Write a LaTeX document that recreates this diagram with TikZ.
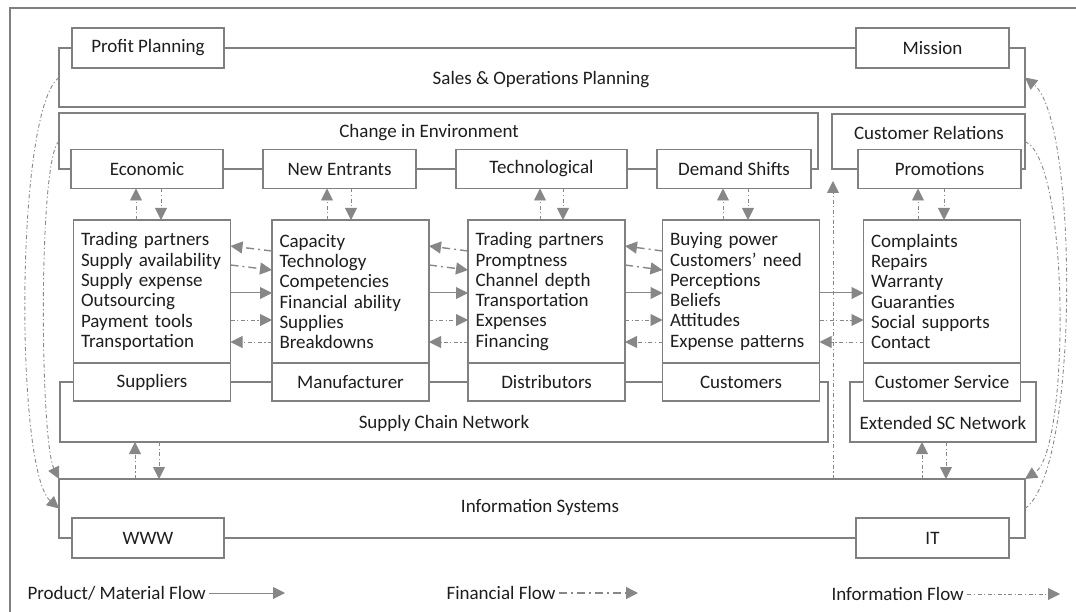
\documentclass[tikz,border=0pt]{standalone}
\usepackage{fontspec}
\setmainfont{Carlito}
\usetikzlibrary{positioning,fit,arrows.meta}
\definecolor{boxgray}{RGB}{128,128,128}
\definecolor{flowgray}{RGB}{135,135,135}
\definecolor{txtgray}{RGB}{30,30,30}
\begin{document}
\begin{tikzpicture}[x=1pt,y=-1pt,font=\fontsize{19}{20.3}\selectfont,text=txtgray,
  frame/.style={draw=boxgray,line width=1.5pt,inner sep=0pt,outer sep=0pt},
  tagbox/.style={draw=boxgray,line width=1.5pt,fill=white,outer sep=0pt,minimum height=39pt},
  listbox/.style={draw=boxgray,line width=1.5pt,fill=white,outer sep=0pt,minimum height=143pt,
    text width=142pt,inner xsep=7.5pt,align=left},
  prod/.style={draw=flowgray,line width=1pt,-{Triangle[length=12pt,width=12pt]}},
  info/.style={draw=flowgray,line width=0.9pt,dash pattern=on 4pt off 2.5pt on 1.2pt off 2.5pt,
    -{Triangle[length=12pt,width=12pt]}},
  fin/.style={draw=flowgray,line width=1.4pt,dash pattern=on 8pt off 4pt on 2pt off 4pt,
    -{Triangle[length=12pt,width=12pt]}}]
\useasboundingbox (0,0) rectangle (1076,612);
\draw[boxgray,line width=1.5pt] (10,612)--(10,8)--(1076,8);
% frames
\node[frame,fit={(59,48) (1025,107)}] (sopf) {};
\node[frame,fit={(59,113) (818,169)}] (cef) {};
\node[frame,fit={(832,114) (1025,169)}] (crf) {};
\node[frame,fit={(60,382) (828,442)}] (scnf) {};
\node[frame,fit={(850,382) (1036,442)}] (extf) {};
\node[frame,fit={(59,479) (1025,538)}] (isf) {};
\node (sop) at (541,80) {Sales \& Operations Planning};
\node (ce) at (429,133) {Change in Environment};
\node (cr) at (929,133) {Customer Relations};
\node (scn) at (444,423) {Supply Chain Network};
\node (ext) at (943,423) {Extended SC Network};
\node (is) at (540,507) {Information Systems};
% boxes on the frames
\node[tagbox,minimum width=152pt,minimum height=40pt] (pp) at (148,48) {Profit Planning};
\node[tagbox,minimum width=153pt,minimum height=40pt] (mis) at (932.5,48) {Mission};
\node[tagbox,minimum width=152pt] (eco) at (147,169) {Economic};
\node[tagbox,minimum width=153pt] (ne) at (339.5,169) {New Entrants};
\node[tagbox,minimum width=171pt] (tec) at (541.5,169) {Technological};
\node[tagbox,minimum width=154pt] (dem) at (734,169) {Demand Shifts};
\node[tagbox,minimum width=163pt] (pro) at (939.5,169) {Promotions};
\node[tagbox,minimum width=152pt,minimum height=40pt] (www) at (148,538) {WWW};
\node[tagbox,minimum width=153pt,minimum height=40pt] (it) at (932.5,538) {IT};
% member boxes
\node[listbox] (sup) at (152,291.5) {Trading partners\\Supply availability\\Supply expense\\Outsourcing\\Payment tools\\Transportation};
\node[listbox] (man) at (350.5,291.5) {Capacity\\Technology\\Competencies\\Financial ability\\Supplies\\Breakdowns};
\node[listbox] (dis) at (546.5,291.5) {Trading partners\\Promptness\\Channel depth\\Transportation\\Expenses\\Financing};
\node[listbox] (cus) at (741,291.5) {Buying power\\Customers’ need\\Perceptions\\Beliefs\\Attitudes\\Expense patterns};
\node[listbox] (csv) at (942,291.5) {Complaints\\Repairs\\Warranty\\Guaranties\\Social supports\\Contact};
\node[tagbox,minimum width=157pt,minimum height=38pt,below=0pt of sup] (supt) {Suppliers};
\node[tagbox,minimum width=157pt,minimum height=38pt,below=0pt of man] (mant) {Manufacturer};
\node[tagbox,minimum width=157pt,minimum height=38pt,below=0pt of dis] (dist) {Distributors};
\node[tagbox,minimum width=157pt,minimum height=38pt,below=0pt of cus] (cust) {Customers};
\node[tagbox,minimum width=157pt,minimum height=38pt,below=0pt of csv] (csvt) {Customer Service};
% up and down between environment and members
\draw[info] ([xshift=-11pt]eco.south |- sup.north) -- ([xshift=-11pt]eco.south);
\draw[info] ([xshift=14pt]eco.south) -- ([xshift=14pt]eco.south |- sup.north);
\draw[info] ([xshift=-12.5pt]ne.south |- man.north) -- ([xshift=-12.5pt]ne.south);
\draw[info] ([xshift=11.5pt]ne.south) -- ([xshift=11.5pt]ne.south |- man.north);
\draw[info] ([xshift=-1.5pt]tec.south |- dis.north) -- ([xshift=-1.5pt]tec.south);
\draw[info] ([xshift=21.5pt]tec.south) -- ([xshift=21.5pt]tec.south |- dis.north);
\draw[info] ([xshift=-11pt]dem.south |- cus.north) -- ([xshift=-11pt]dem.south);
\draw[info] ([xshift=14pt]dem.south) -- ([xshift=14pt]dem.south |- cus.north);
\draw[info] ([xshift=-21.5pt]pro.south |- csv.north) -- ([xshift=-21.5pt]pro.south);
\draw[info] ([xshift=4.5pt]pro.south) -- ([xshift=4.5pt]pro.south |- csv.north);
% flows between members
\draw[fin] ([yshift=40.5pt]man.west) -- ([yshift=45.5pt]sup.east);
\draw[fin] ([yshift=26.5pt]sup.east) -- ([yshift=21.5pt]man.west);
\draw[prod] ([yshift=-1.5pt]sup.east) -- ([yshift=-1.5pt]man.west);
\draw[info] ([yshift=-28.5pt]sup.east) -- ([yshift=-28.5pt]man.west);
\draw[info] ([yshift=-50.5pt]man.west) -- ([yshift=-50.5pt]sup.east);
\draw[fin] ([yshift=40.5pt]dis.west) -- ([yshift=45.5pt]man.east);
\draw[fin] ([yshift=26.5pt]man.east) -- ([yshift=21.5pt]dis.west);
\draw[prod] ([yshift=-1.5pt]man.east) -- ([yshift=-1.5pt]dis.west);
\draw[info] ([yshift=-28.5pt]man.east) -- ([yshift=-28.5pt]dis.west);
\draw[info] ([yshift=-50.5pt]dis.west) -- ([yshift=-50.5pt]man.east);
\draw[fin] ([yshift=40.5pt]cus.west) -- ([yshift=45.5pt]dis.east);
\draw[fin] ([yshift=26.5pt]dis.east) -- ([yshift=21.5pt]cus.west);
\draw[prod] ([yshift=-1.5pt]dis.east) -- ([yshift=-1.5pt]cus.west);
\draw[info] ([yshift=-28.5pt]dis.east) -- ([yshift=-28.5pt]cus.west);
\draw[info] ([yshift=-50.5pt]cus.west) -- ([yshift=-50.5pt]dis.east);
\draw[prod] ([yshift=-1.5pt]cus.east) -- ([yshift=-1.5pt]csv.west);
\draw[info] ([yshift=-28.5pt]cus.east) -- ([yshift=-28.5pt]csv.west);
\draw[info] ([yshift=-50.5pt]csv.west) -- ([yshift=-50.5pt]cus.east);
% networks and information systems
\draw[info] ([xshift=-13pt]www.center |- isf.north) -- ([xshift=-13pt]www.center |- scnf.south);
\draw[info] ([xshift=11pt]www.center |- scnf.south) -- ([xshift=11pt]www.center |- isf.north);
\draw[info] ([xshift=-10.5pt]it.center |- isf.north) -- ([xshift=-10.5pt]it.center |- extf.south);
\draw[info] ([xshift=13.5pt]it.center |- extf.south) -- ([xshift=13.5pt]it.center |- isf.north);
\coordinate (crtip) at (833,181);
\draw[info] (isf.north -| crtip) -- (crtip);
% side loops
\draw[info] (sopf.west) .. controls (15,110) and (15,470) .. (isf.west);
\draw[info] (cef.west) .. controls (38,160) and (40,440) .. (isf.north west);
\draw[info] (isf.east) .. controls (1080,470) and (1078,120) .. (sopf.east);
\draw[info] (crf.east) .. controls (1070,160) and (1070,450) .. (isf.north east);
% legend
\node[anchor=west] (lgp) at (24,593) {Product/ Material Flow};
\coordinate (lgpe) at (285,593);
\draw[prod] (lgp) -- (lgpe);
\node[anchor=west] (lgf) at (443,593) {Financial Flow};
\coordinate (lgfe) at (638,593);
\draw[fin] (lgf) -- (lgfe);
\node[anchor=west] (lgi) at (828,594) {Information Flow};
\coordinate (lgie) at (1060,594);
\draw[info] (lgi) -- (lgie);
\end{tikzpicture}
\end{document}
